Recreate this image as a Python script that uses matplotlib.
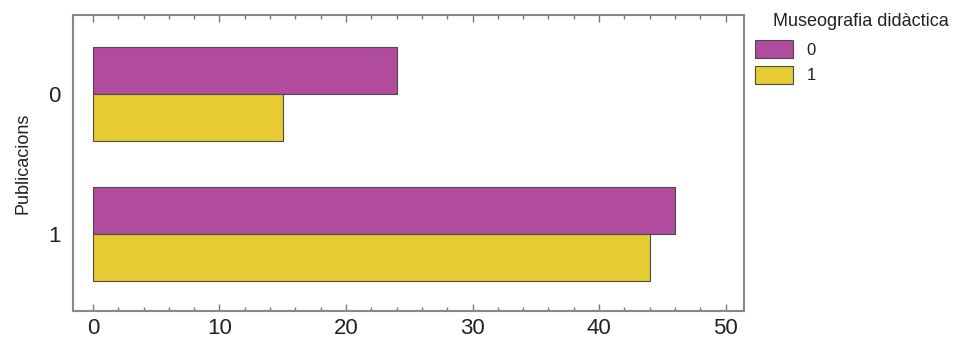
import numpy as np
import matplotlib.pyplot as plt
from matplotlib.patches import Patch
from matplotlib.ticker import MultipleLocator

plt.rcParams['font.family'] = ['Liberation Sans', 'DejaVu Sans']

# recompte per publicacions i museografia didàctica
publicacions = ['0', '1']
grups = ['0', '1']
valors_0 = [24, 46]
valors_1 = [15, 44]
colors = ['#b04b9e', '#e6cb32']

fig = plt.figure(figsize=(9.6, 3.43), dpi=100)
ax = fig.add_axes([73 / 960, 1 - 311 / 343, 671 / 960, 296 / 343])

y = np.arange(len(publicacions))
h = 0.336
ax.barh(y - h / 2, valors_0, height=h, color=colors[0], edgecolor='#4a4a4a', linewidth=0.8)
ax.barh(y + h / 2, valors_1, height=h, color=colors[1], edgecolor='#4a4a4a', linewidth=0.8)

ax.set_xlim(-1.58, 51.46)
ax.set_ylim(1.55, -0.564)
ax.set_yticks(y)
ax.set_yticklabels(publicacions, fontsize=16, color='#222222')
ax.tick_params(axis='y', length=0, pad=9)
ax.xaxis.set_major_locator(MultipleLocator(10))
ax.xaxis.set_minor_locator(MultipleLocator(2))
ax.tick_params(axis='x', which='both', direction='in', top=True, bottom=True,
               colors='#777777', labelcolor='#222222', labelsize=16, pad=5)
ax.tick_params(axis='x', which='major', length=5, width=1)
ax.tick_params(axis='x', which='minor', length=3, width=1)
ax.set_ylabel('Publicacions', fontsize=13, labelpad=12, color='#222222')
for s in ax.spines.values():
    s.set_color('#888888')
    s.set_linewidth(1.5)

fig.text(773 / 960, 1 - 22 / 343, 'Museografia didàctica', fontsize=13,
         color='#222222', va='center', ha='left')
handles = [Patch(facecolor=c, edgecolor='#4a4a4a', linewidth=0.8) for c in colors]
leg = fig.legend(handles, grups, loc='upper left',
                 bbox_to_anchor=(740 / 960, 1 - 25 / 343), frameon=False,
                 fontsize=12, handlelength=2.3, handleheight=1.3,
                 labelspacing=0.45, handletextpad=0.8)
for t in leg.get_texts():
    t.set_color('#222222')

fig.savefig('out.png', dpi=100)
